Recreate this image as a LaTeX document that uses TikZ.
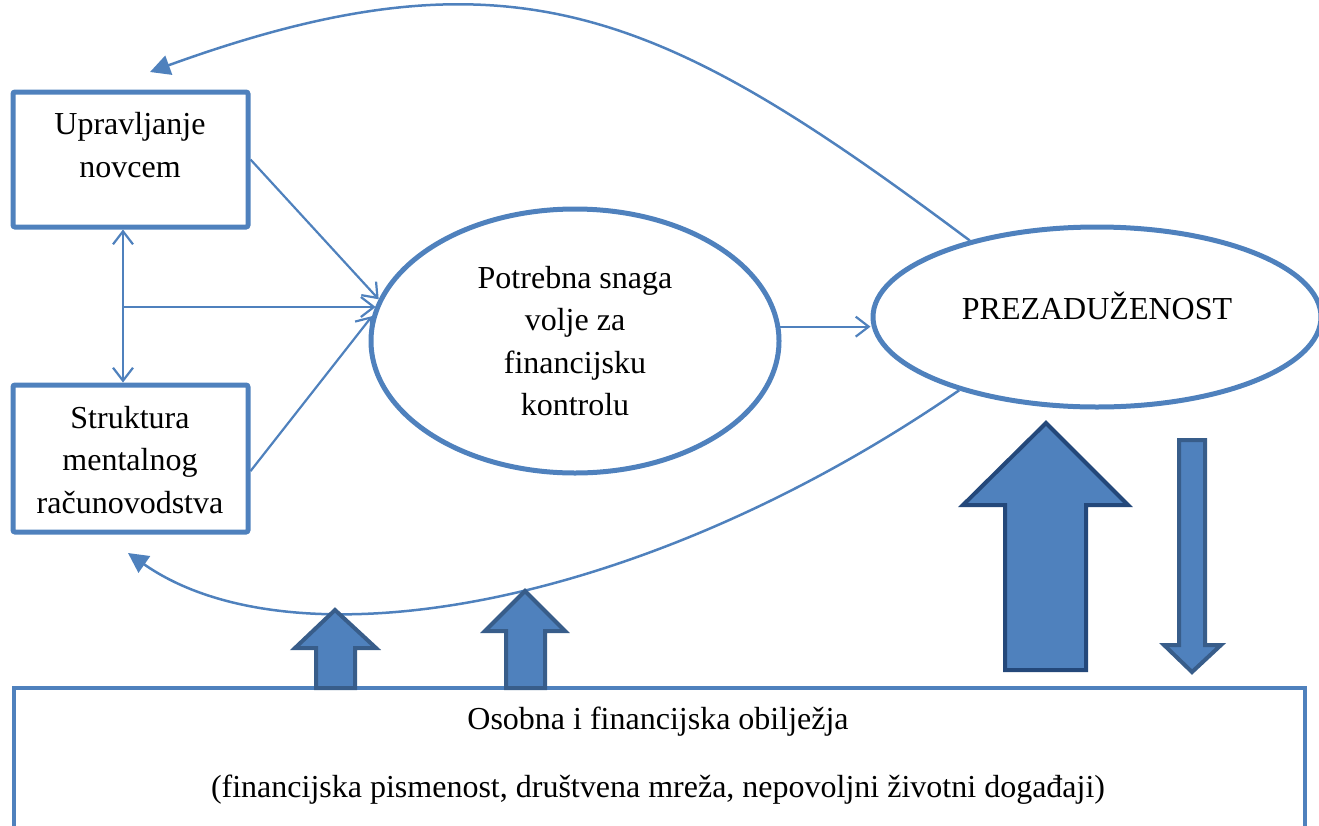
\documentclass[tikz,border=0pt]{standalone}
\usepackage{fontspec}
\setmainfont{Liberation Serif}
\usetikzlibrary{shapes.geometric,arrows.meta}
\definecolor{acc}{HTML}{4F81BD}
\definecolor{accd}{HTML}{385D8A}
\definecolor{accdd}{HTML}{24487A}
\begin{document}
\begin{tikzpicture}[x=1pt,y=-1pt,
  box/.style={draw=acc, line width=5pt, rounded corners=2pt, inner sep=0pt},
  oval/.style={ellipse, draw=acc, line width=5pt, inner sep=0pt},
  txt/.style={font=\fontsize{32}{42.5}\selectfont, align=center, inner sep=0pt},
  conn/.style={draw=acc, line width=2.2pt, -{Straight Barb[length=13pt,width=20pt]}},
  dconn/.style={draw=acc, line width=2.2pt, {Straight Barb[length=13pt,width=20pt]}-{Straight Barb[length=13pt,width=20pt]}},
  curv/.style={draw=acc, line width=2.5pt, -{Triangle[length=20pt,width=20pt]}},
  blk/.style={fill=acc, draw=accd, line width=4pt, line join=miter},
  bigblk/.style={fill=acc, draw=accdd, line width=4pt, line join=miter},
]
\useasboundingbox (0,0) rectangle (1319,825);
\clip (0,0) rectangle (1319,825);

% boxes and ellipses
\node[box, minimum width=235pt, minimum height=135pt] (b1) at (130.5,159.5) {};
\node[txt] (b1t) at (130,145) {Upravljanje\\novcem};
\node[box, minimum width=235pt, minimum height=147pt] (b2) at (130.5,458.5) {};
\node[txt] (b2t) at (130,460) {Struktura\\mentalnog\\računovodstva};
\node[oval, minimum width=408pt, minimum height=264pt] (e1) at (575,341) {};
\node[txt] (e1t) at (575,341) {Potrebna snaga\\volje za\\financijsku\\kontrolu};
\node[oval, minimum width=448pt, minimum height=180pt] (e2) at (1097,317) {};
\node[txt] (e2t) at (1097,306) {PREZADUŽENOST};
\node[draw=acc, line width=4pt, minimum width=1291pt, minimum height=260pt, anchor=north west, inner sep=0pt] (bb) at (12,686) {};
\node[txt] (bt1) at (658,722) {Osobna i financijska obilježja};
\node[txt] (bt2) at (658,790) {(financijska pismenost, društvena mreža, nepovoljni životni događaji)};

% thin connectors
\coordinate (j) at (123,307);
\draw[conn] (b1.east) -- (e1.168);
\draw[conn] (j) -- (j -| e1.170);
\draw[conn] (b2.-6) -- (e1.173);
\draw[dconn] (b1.south -| j) -- (b2.north -| j);
\draw[conn] (e1.4) -- (e1.4 -| e2.west);

% curved connectors
\coordinate (t1) at (150,72);
\coordinate (t2) at (128,553);
\draw[curv] (e2.149) .. controls (664,12) and (514,-60) .. (t1);
\draw[curv] (e2.208) .. controls (639,611) and (292,668) .. (t2);

% block arrows
\draw[blk] (335,610) -- (376,648) -- (355,648) -- (355,688) -- (316,688) -- (316,648) -- (295,648) -- cycle;
\draw[blk] (525,591) -- (565,631) -- (545,631) -- (545,688) -- (506,688) -- (506,631) -- (485,631) -- cycle;
\draw[bigblk] (1046,423) -- (1128,505) -- (1086,505) -- (1086,670) -- (1005,670) -- (1005,505) -- (963,505) -- cycle;
\draw[blk] (1179,440) -- (1205,440) -- (1205,645) -- (1221,645) -- (1192,672) -- (1164,645) -- (1179,645) -- cycle;
\end{tikzpicture}
\end{document}
